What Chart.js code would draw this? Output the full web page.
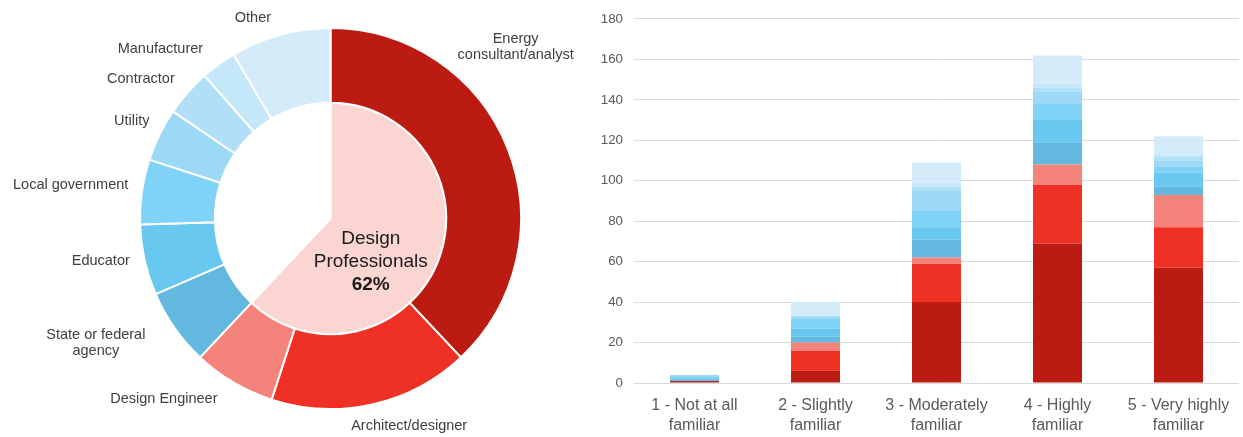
<!DOCTYPE html>
<html>
<head>
<meta charset="utf-8">
<script src="https://cdn.jsdelivr.net/npm/chart.js@4/dist/chart.umd.min.js"></script>
<style>
  html, body { margin: 0; padding: 0; background: #ffffff; }
  #wrap { position: relative; width: 1243px; height: 437px; overflow: hidden; }
  #pieBox { position: absolute; left: 0; top: 0; width: 590px; height: 437px; }
  #barBox { position: absolute; left: 590px; top: 0; width: 653px; height: 437px; }
  canvas { display: block; }
</style>
</head>
<body>
<div id="wrap">
  <div id="pieBox"><canvas id="roleChart" width="590" height="437"></canvas></div>
  <div id="barBox"><canvas id="familiarChart" width="653" height="437"></canvas></div>
</div>
<script>
// Respondent roles (outer ring) and their shares of all respondents, in percent
const roles = ['Energy consultant/analyst', 'Architect/designer', 'Design Engineer',
  'State or federal agency', 'Educator', 'Local government', 'Utility',
  'Contractor', 'Manufacturer', 'Other'];
const roleLabelLines = [['Energy', 'consultant/analyst'], ['Architect/designer'], ['Design Engineer'],
  ['State or federal', 'agency'], ['Educator'], ['Local government'], ['Utility'],
  ['Contractor'], ['Manufacturer'], ['Other']];
const roleShares = [38, 17, 7, 6.5, 6, 5.5, 4.5, 4, 3, 8.5];

// Inner pie: design professionals vs. everyone else
const groupName = ['Design', 'Professionals'];
const groupShares = [62, 38];

// Familiarity categories and respondent counts per role
const familiarity = [['1 - Not at all', 'familiar'], ['2 - Slightly', 'familiar'],
  ['3 - Moderately', 'familiar'], ['4 - Highly', 'familiar'], ['5 - Very highly', 'familiar']];
const energyConsultant = [1, 6, 40, 69, 57];
const architect        = [0, 10, 19, 29, 20];
const designEngineer   = [0, 4, 3, 10, 16];
const stateFederal     = [0, 3, 9, 11, 4];
const educator         = [1, 4, 6, 11, 7];
const localGovernment  = [1, 5, 8, 8, 3];
const utility          = [1, 1, 10, 6, 3];
const contractor       = [0, 0, 2, 2, 2];
const manufacturer     = [0, 0, 2, 2, 1];
const other            = [0, 7, 10, 14, 9];
const countSeries = [energyConsultant, architect, designEngineer, stateFederal, educator,
  localGovernment, utility, contractor, manufacturer, other];
const yTickMin = 0, yTickMax = 180, yTickStep = 20;

// Styling
const roleColors = ['#bc1b11', '#ee3124', '#f4837b', '#62b8df', '#69c8ef',
  '#80d2f6', '#9cd9f6', '#b0dff7', '#c4e7f9', '#d4ecfa'];
const groupColors = ['#fbd5d2', '#ffffff'];
// Per-label placement tweak: [angle shift in degrees, extra distance in px]
const labelNudge = [[-26, 11], [-4.5, 4], [7, 14], [4, 19], [1, 0], [1, 0], [1, 0], [-2, 6], [-5, 11], [-5, 0]];
const FONT = '"Liberation Sans", Arial, sans-serif';

// Draws role names around the ring and the group caption inside the pie
const ringLabels = {
  id: 'ringLabels',
  afterDatasetsDraw(chart) {
    const ctx = chart.ctx;
    const ring = chart.getDatasetMeta(0);
    ctx.save();
    ctx.font = '14.5px ' + FONT;
    ctx.fillStyle = '#404040';
    ctx.textAlign = 'center';
    ctx.textBaseline = 'middle';
    const lineH = 16;
    ring.data.forEach((arc, i) => {
      const lines = roleLabelLines[i];
      const nudge = labelNudge[i];
      const a = (arc.startAngle + arc.endAngle) / 2 + nudge[0] * Math.PI / 180;
      const dx = Math.cos(a), dy = Math.sin(a);
      const r = arc.outerRadius + 15 + nudge[1];
      const ax = arc.x + dx * r, ay = arc.y + dy * r;
      const w = Math.max(...lines.map(t => ctx.measureText(t).width));
      const h = lines.length * lineH;
      const cx = ax + dx * w / 2, cy = ay + dy * h / 2;
      lines.forEach((t, k) => {
        ctx.fillText(t, cx, cy - h / 2 + lineH / 2 + k * lineH);
      });
    });
    // caption of the design-professional slice
    const pie = chart.getDatasetMeta(1).data[0];
    const a = (pie.startAngle + pie.endAngle) / 2 + 25.4 * Math.PI / 180;
    const r = pie.outerRadius * 0.51;
    const cx = pie.x + Math.cos(a) * r, cy = pie.y + Math.sin(a) * r;
    ctx.fillStyle = '#1a1a1a';
    ctx.font = '19px ' + FONT;
    ctx.fillText(groupName[0], cx, cy - 23.3);
    ctx.fillText(groupName[1], cx, cy);
    ctx.font = 'bold 19px ' + FONT;
    ctx.fillText(groupShares[0] + '%', cx, cy + 23.3);
    ctx.restore();
  }
};

new Chart(document.getElementById('roleChart'), {
  type: 'doughnut',
  data: {
    labels: roles,
    datasets: [
      { data: roleShares, backgroundColor: roleColors, borderColor: '#ffffff', borderWidth: 2, weight: 75 },
      { data: groupShares, backgroundColor: groupColors, borderColor: '#ffffff', borderWidth: 2, weight: 116 }
    ]
  },
  options: {
    responsive: false,
    animation: false,
    events: [],
    cutout: 0,
    layout: { padding: { left: 139, right: 68, top: 27, bottom: 27 } },
    plugins: { legend: { display: false }, tooltip: { enabled: false } }
  },
  plugins: [ringLabels]
});

new Chart(document.getElementById('familiarChart'), {
  type: 'bar',
  data: {
    labels: familiarity,
    datasets: countSeries.map((vals, i) => ({
      label: roles[i],
      data: vals,
      backgroundColor: roleColors[i],
      borderWidth: 0,
      barPercentage: 0.405,
      categoryPercentage: 1
    }))
  },
  options: {
    responsive: false,
    animation: false,
    events: [],
    layout: { padding: { left: 0, right: 4, top: 17, bottom: 0 } },
    plugins: { legend: { display: false }, tooltip: { enabled: false } },
    scales: {
      x: {
        stacked: true,
        grid: { display: false },
        border: { display: false },
        ticks: { color: '#595959', padding: 5, maxRotation: 0, autoSkip: false,
          font: { family: FONT, size: 16, lineHeight: 1.25 } },
        afterFit(s) { s.height = 54; }
      },
      y: {
        stacked: true,
        min: yTickMin,
        max: yTickMax,
        grid: { color: '#d9d9d9', lineWidth: 1, drawTicks: false },
        border: { display: false },
        ticks: { stepSize: yTickStep, color: '#595959', padding: 11,
          font: { family: FONT, size: 13.3 } },
        afterFit(s) { s.width = 44; }
      }
    }
  }
});
</script>
</body>
</html>
